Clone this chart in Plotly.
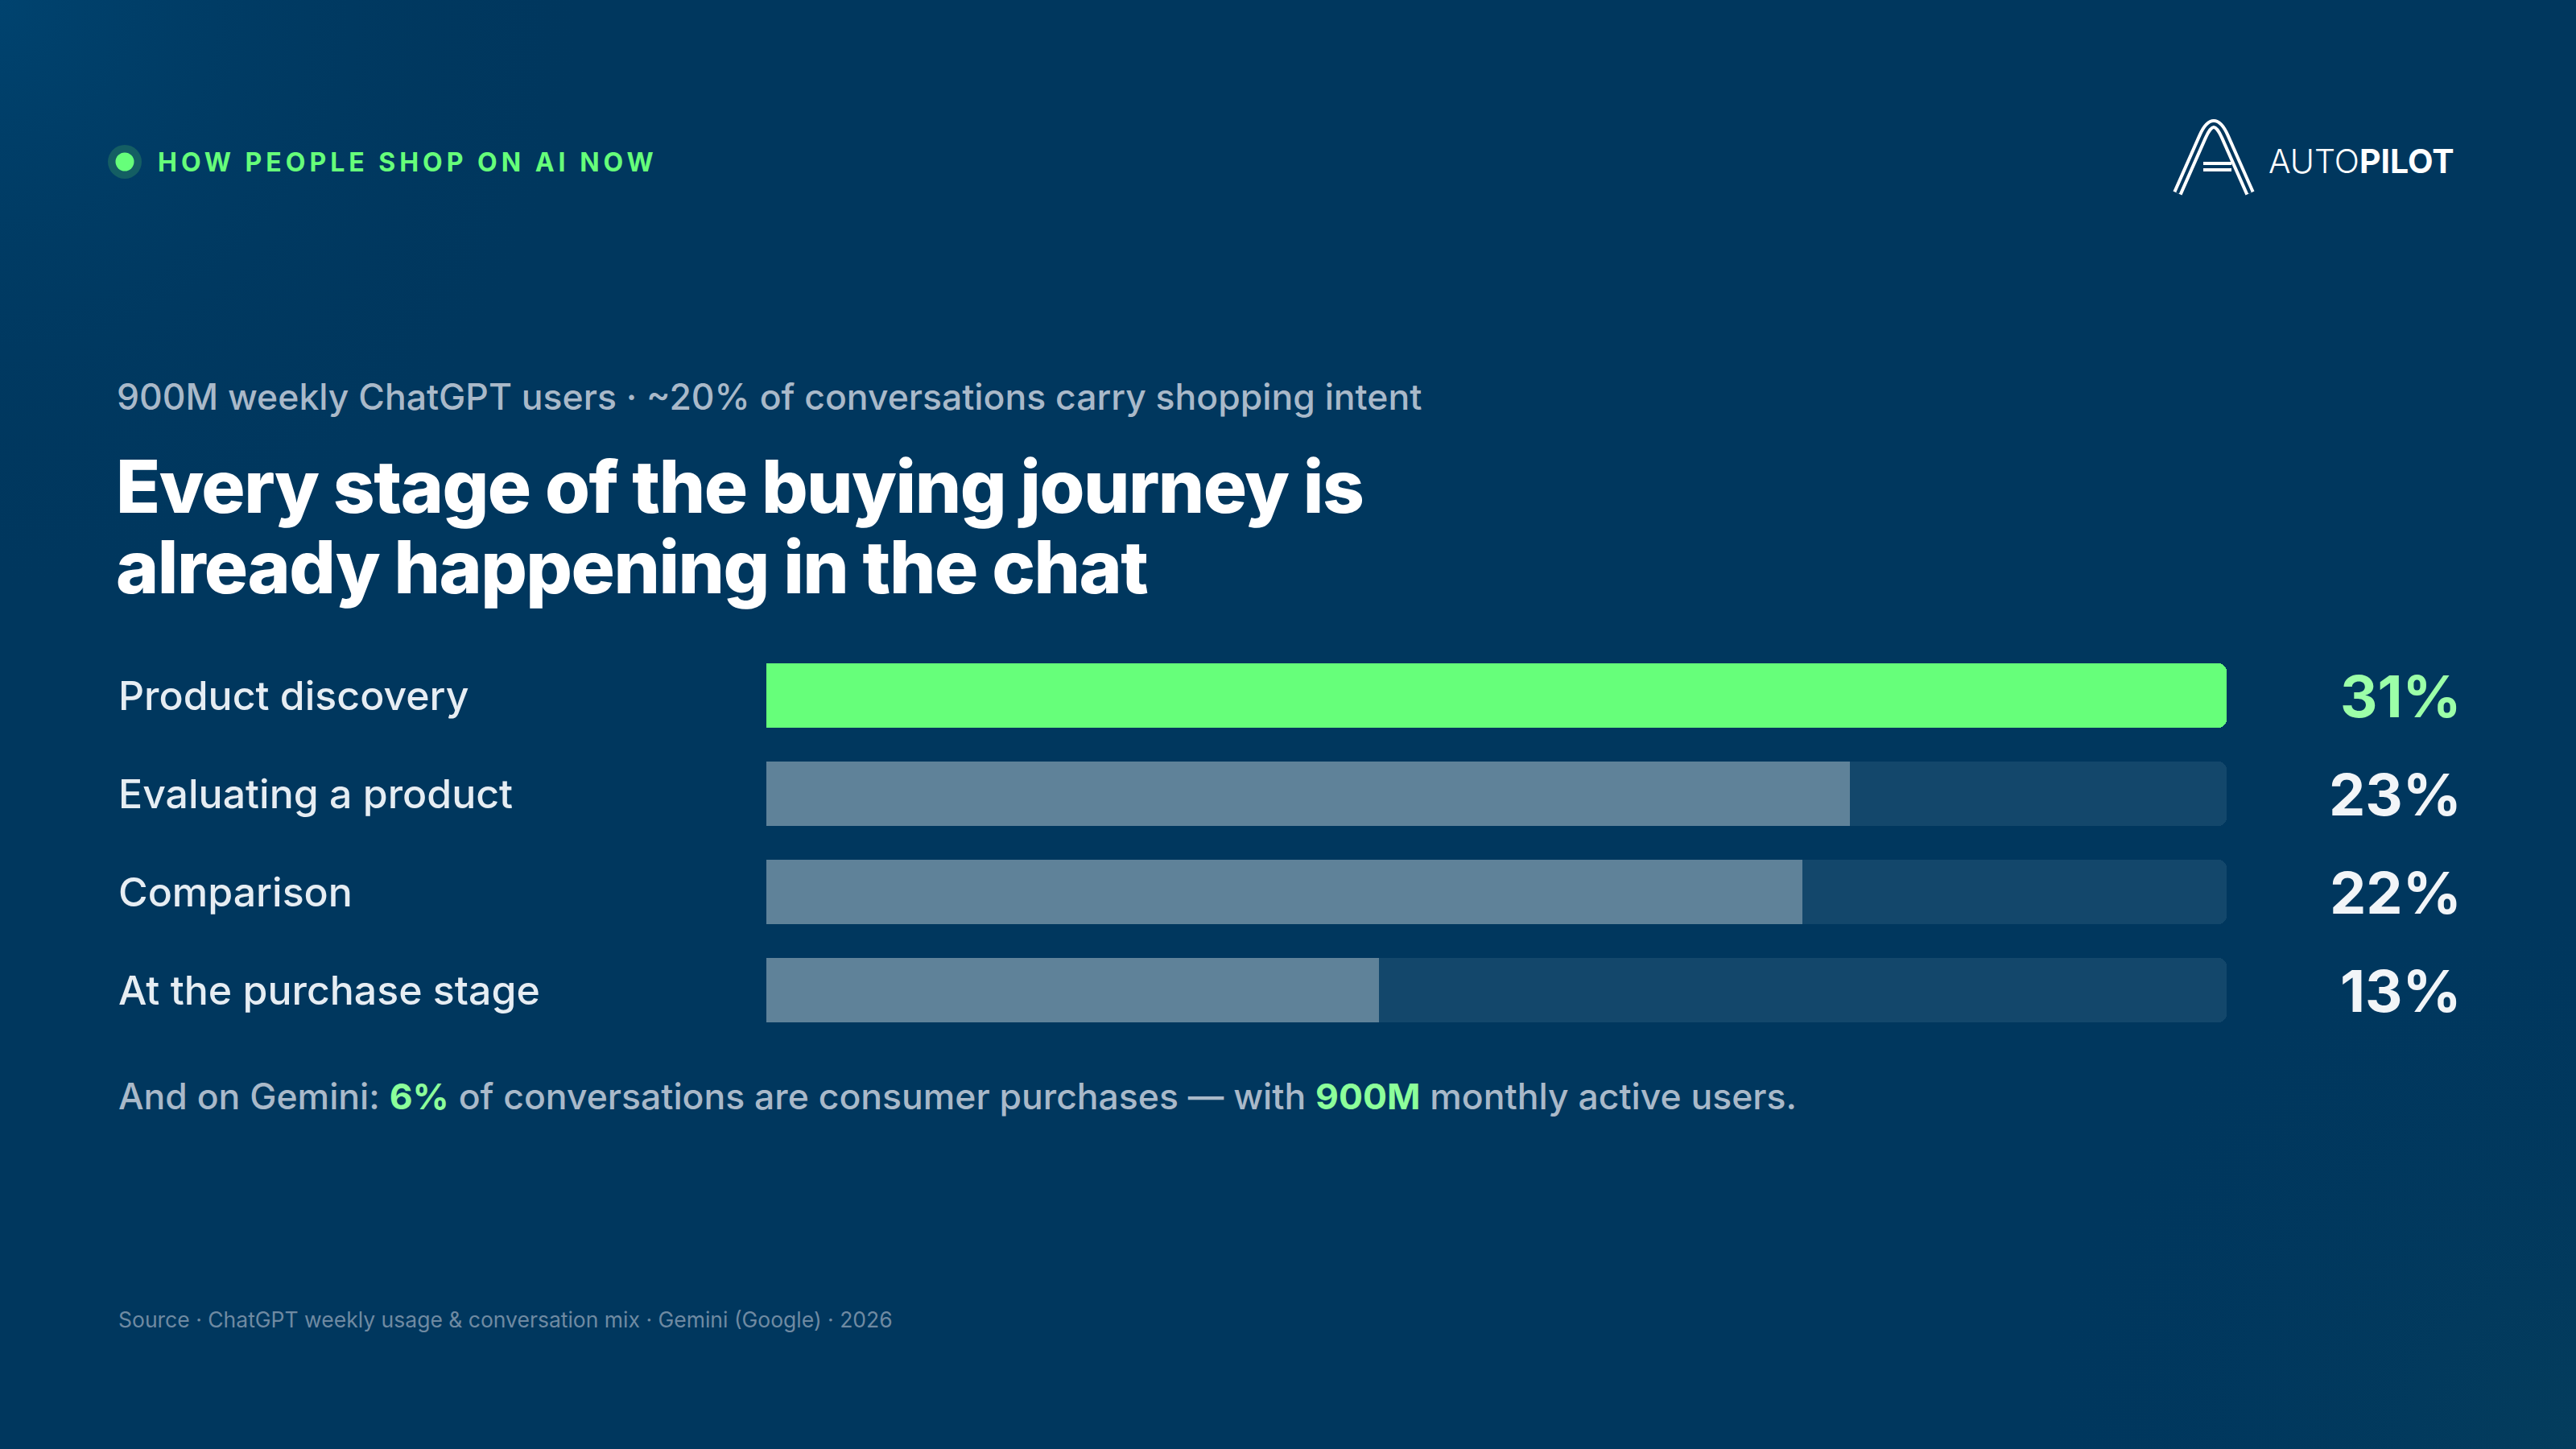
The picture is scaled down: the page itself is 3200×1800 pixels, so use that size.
import base64
import plotly.graph_objects as go

W, H = 3200, 1800

# data
stages = ["Product discovery", "Evaluating a product", "Comparison", "At the purchase stage"]
shares = [31, 23, 22, 13]
value_labels = ["31%", "23%", "22%", "13%"]

eyebrow = "HOW PEOPLE SHOP ON AI NOW"
subtitle = "900M weekly ChatGPT users · ~20% of conversations carry shopping intent"
title_lines = ["Every stage of the buying journey is", "already happening in the chat"]
source = "Source · ChatGPT weekly usage & conversation mix · Gemini (Google) · 2026"

BG = "#00375e"
GREEN = "#66ff7a"
GREEN_TXT = "#9cffa8"
GREY_BAR = "#5f8299"
TRACK = "#13476b"
MUTED = "#a9b9c9"


def px(x, y):
    # pixel position -> paper coords
    return x / W, 1 - y / H


# soft background glow (top-left / bottom-right)
svg = (
    '<svg xmlns="http://www.w3.org/2000/svg" width="3200" height="1800">'
    '<defs>'
    '<radialGradient id="a" gradientUnits="userSpaceOnUse" cx="0" cy="0" r="750">'
    '<stop offset="0" stop-color="#00436f"/><stop offset="1" stop-color="#00375e" stop-opacity="0"/>'
    '</radialGradient>'
    '<radialGradient id="b" gradientUnits="userSpaceOnUse" cx="3200" cy="1800" r="700">'
    '<stop offset="0" stop-color="#043d5d"/><stop offset="1" stop-color="#00375e" stop-opacity="0"/>'
    '</radialGradient>'
    '</defs>'
    '<rect width="3200" height="1800" fill="#00375e"/>'
    '<rect width="3200" height="1800" fill="url(#a)"/>'
    '<rect width="3200" height="1800" fill="url(#b)"/>'
    '</svg>'
)
bg_uri = "data:image/svg+xml;base64," + base64.b64encode(svg.encode()).decode()

track = [max(shares)] * len(shares)
colors = [GREEN if i == 0 else GREY_BAR for i in range(len(shares))]

fig = go.Figure()
fig.add_trace(go.Bar(y=stages, x=track, orientation="h", width=0.656,
                     marker=dict(color=TRACK, cornerradius=10, line=dict(width=0)),
                     hoverinfo="skip", showlegend=False))
fig.add_trace(go.Bar(y=stages, x=shares, orientation="h", width=0.656,
                     marker=dict(color=colors, cornerradius=10, line=dict(width=0)),
                     showlegend=False))

annotations = []

def note(text, x, y, size, color, weight=400, anchor="left", yref="paper", family="Inter"):
    if yref == "paper":
        xx, yy = px(x, y)
    else:
        xx, yy = x / W, y
    annotations.append(dict(text=text, x=xx, y=yy, xref="paper", yref=yref,
                            xanchor=anchor, yanchor="middle", showarrow=False,
                            font=dict(family=family, size=size, color=color, weight=weight)))

note("<span style='letter-spacing:5px'>%s</span>" % eyebrow, 194, 201, 32, GREEN, 700)
note(subtitle, 143, 493, 44.5, MUTED, 500)
for k, line in enumerate(title_lines):
    note("<span style='letter-spacing:-1.5px'>%s</span>" % line, 142, 604 + 100 * k, 90.5, "#ffffff", 800)

for i, (s, v) in enumerate(zip(stages, value_labels)):
    note(s, 145, s, 50, "#e6edf3", 500, yref="y")
    note(v, 3060, s, 72, GREEN_TXT if i == 0 else "#f2f5f8", 700, anchor="right", yref="y")

gem = ("And on Gemini: <b><span style='color:#8cff9a'>6%</span></b> of conversations are consumer "
       "purchases — with <b><span style='color:#8cff9a'>900M</span></b> monthly active users.")
note(gem, 145, 1362, 44.5, MUTED, 500)
note(source, 145, 1639, 26.5, "#6f8aa2", 400)

# logo text
note("<span style='font-weight:300'>AUTO</span><b>PILOT</b>", 3051, 200, 41, "#ffffff", 800, anchor="right")

shapes = []
# eyebrow dot
cx, cy = px(155, 201)
for r, c in [(21, "#145e63"), (11.5, GREEN)]:
    shapes.append(dict(type="circle", xref="paper", yref="paper",
                       x0=cx - r / W, x1=cx + r / W, y0=cy - r / H, y1=cy + r / H,
                       fillcolor=c, line=dict(width=0), layer="above"))

# logo mark: double stroked "A"
def path_of(pts_cmds):
    out = []
    for cmd, pts in pts_cmds:
        coords = " ".join("%.5f,%.5f" % px(x, y) for x, y in pts)
        out.append(cmd + " " + coords)
    return " ".join(out)

a_path = path_of([("M", [(2705, 240)]), ("L", [(2736, 170)]),
                  ("Q", [(2750, 138), (2764, 170)]), ("L", [(2795, 240)]),
                  ("M", [(2737, 207)]), ("L", [(2772, 207)])])
for w, c in [(12, "#ffffff"), (4, BG)]:
    shapes.append(dict(type="path", path=a_path, xref="paper", yref="paper",
                       line=dict(color=c, width=w), layer="above"))

fig.update_layout(
    width=W, height=H,
    margin=dict(l=0, r=0, t=0, b=0),
    paper_bgcolor=BG, plot_bgcolor="rgba(0,0,0,0)",
    barmode="overlay", bargap=0,
    xaxis=dict(domain=[952 / W, 2766 / W], range=[0, max(shares)], visible=False, fixedrange=True),
    yaxis=dict(domain=[1 - 1291 / H, 1 - 803 / H], autorange="reversed", visible=False,
               categoryorder="array", categoryarray=stages, fixedrange=True),
    images=[dict(source=bg_uri, xref="paper", yref="paper", x=0, y=1, sizex=1, sizey=1,
                 sizing="stretch", layer="below", xanchor="left", yanchor="top")],
    annotations=annotations,
    shapes=shapes,
    font=dict(family="Inter"),
)

fig.write_html("out.html", config={"displayModeBar": False},
               post_script="document.body.style.margin='0';document.body.style.overflow='hidden';")
